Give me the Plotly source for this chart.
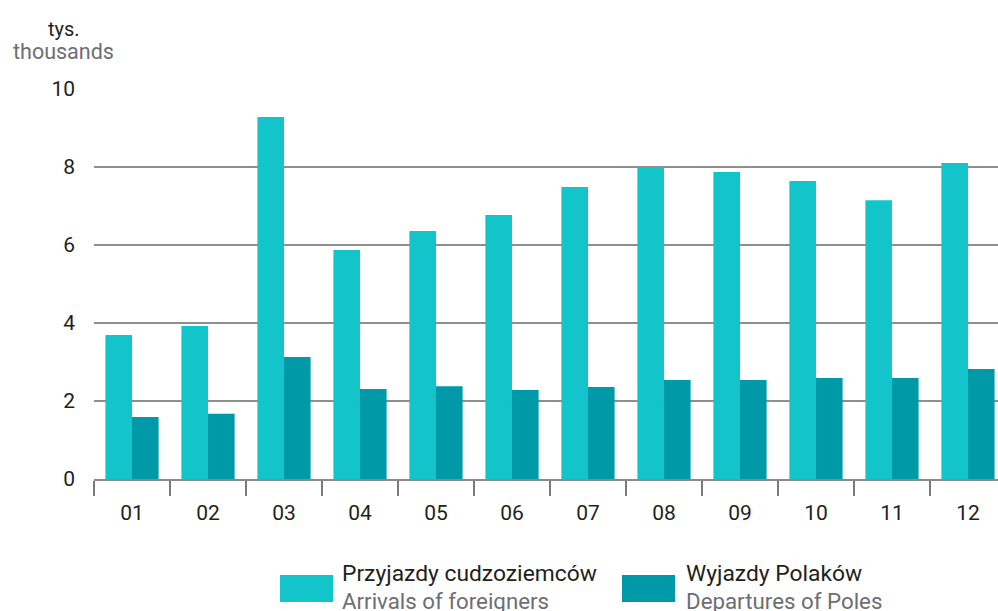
import plotly.graph_objects as go

months = ["01", "02", "03", "04", "05", "06", "07", "08", "09", "10", "11", "12"]
arrivals = [3.69, 3.92, 9.28, 5.87, 6.36, 6.77, 7.49, 8.00, 7.87, 7.64, 7.15, 8.10]
departures = [1.59, 1.67, 3.13, 2.31, 2.38, 2.28, 2.36, 2.54, 2.54, 2.59, 2.59, 2.82]
y_ticks = [0, 2, 4, 6, 8, 10]

series_names = [("Przyjazdy cudzoziemców", "Arrivals of foreigners"),
                ("Wyjazdy Polaków", "Departures of Poles")]
unit_pl = "tys."
unit_en = "thousands"

C_ARR = "#13C4CB"
C_DEP = "#0099A8"
DARK = "#231F20"
GREY = "#6D6E71"
FONT = "Roboto"

W, H = 998, 611
L, R, T, B = 94, 0, 89, 132
PW, PH = W - L - R, H - T - B


def px(x):
    return (x - L) / PW


def py(y):
    return (H - B - y) / PH


fig = go.Figure()
fig.add_trace(go.Bar(x=months, y=arrivals, marker=dict(color=C_ARR, line=dict(width=0)),
                     name=series_names[0][0], showlegend=False))
fig.add_trace(go.Bar(x=months, y=departures, marker=dict(color=C_DEP, line=dict(width=0)),
                     name=series_names[1][0], showlegend=False))

annotations = [
    dict(text=unit_pl, x=px(64), y=py(29), font=dict(color=DARK, size=20)),
    dict(text=unit_en, x=px(63), y=py(52), font=dict(color=GREY, size=21.5)),
]
shapes = []
legend_items = [(280, 333, 340, C_ARR, series_names[0]), (622, 675, 684, C_DEP, series_names[1])]
for x0, x1, tx, col, (pl, en) in legend_items:
    shapes.append(dict(type="rect", xref="paper", yref="paper", x0=px(x0), x1=px(x1),
                       y0=py(602), y1=py(575), fillcolor=col, line=dict(width=0)))
    annotations.append(dict(text=pl, x=px(tx), y=py(573), xanchor="left",
                            font=dict(color=DARK, size=22.8)))
    annotations.append(dict(text=en, x=px(tx), y=py(601), xanchor="left",
                            font=dict(color=GREY, size=22.3)))
for a in annotations:
    a.setdefault("xanchor", "center")
    a.update(xref="paper", yref="paper", yanchor="middle", showarrow=False)
    a["font"]["family"] = FONT

fig.update_layout(
    width=W, height=H,
    margin=dict(l=L, r=R, t=T, b=B, autoexpand=False),
    paper_bgcolor="white", plot_bgcolor="white",
    barmode="group", bargap=0.3, bargroupgap=0,
    font=dict(family=FONT, color=DARK, size=21),
    showlegend=False,
    annotations=annotations,
    shapes=shapes,
)
fig.update_xaxes(
    type="category", range=[-0.5, 11.395],
    showline=True, linecolor="#8A8A8A", linewidth=2,
    ticks="outside", tickson="boundaries", ticklen=15, tickcolor="#7A7A7A", tickwidth=1.5,
    showgrid=False, tickfont=dict(size=21, color=DARK), ticklabelstandoff=14,
)
fig.update_yaxes(
    range=[0, 10], tickvals=y_ticks, showline=False, zeroline=False,
    showgrid=True, gridcolor="#8F8F8F", gridwidth=1.5,
    tickfont=dict(size=21, color=DARK), ticks="", ticklabelstandoff=18,
)

fig.write_html(
    "out.html",
    config={"displayModeBar": False},
    post_script="document.body.style.margin='0';document.body.style.overflow='hidden';",
)
